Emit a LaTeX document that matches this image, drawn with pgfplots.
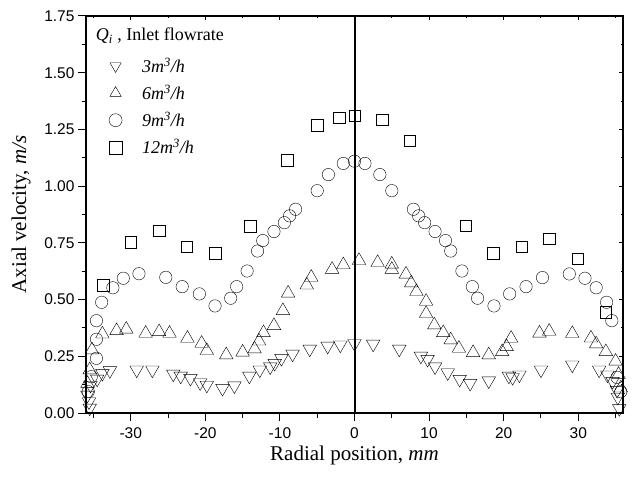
\documentclass[border=0pt]{standalone}
\usepackage{pgfplots}
\pgfplotsset{compat=1.18}
\usepackage{fontspec}
\setmainfont{Liberation Serif}
\newfontfamily\arialf{Liberation Sans}

\begin{document}
\begin{tikzpicture}
\pgfplotsset{
  myaxis/.style={
    scale only axis, width=537pt, height=397pt,
    xmin=-36, xmax=36, ymin=0, ymax=1.75,
    xtick={-30,-20,...,30},
    minor xtick={-35,-25,...,35},
    ytick={0,0.25,...,1.75},
    minor ytick={0.125,0.375,...,1.625},
    axis line style={line width=1.3pt},
    every tick/.style={black, line width=1pt},
  }
}
\begin{axis}[myaxis, name=main, at={(0,0)}, anchor=south west,
  tick align=outside, xtick pos=left, ytick pos=left,
  major tick length=8pt, minor tick length=4.5pt,
  /pgf/number format/assume math mode=true,
  yticklabel style={/pgf/number format/fixed, /pgf/number format/fixed zerofill, /pgf/number format/precision=2},
  xticklabel style={yshift=-3pt},
  tick label style={font=\arialf\fontsize{15.5}{18}\selectfont},
  xlabel={Radial position, \textit{mm}},
  ylabel={Axial velocity, \textit{m/s}},
  every axis y label/.style={at={(axis description cs:0,0.5)}, xshift=-65pt, rotate=90, anchor=center, font=\fontsize{21}{24}\selectfont},
  every axis x label/.style={at={(axis description cs:0.5,0)}, anchor=center, yshift=-42pt, font=\fontsize{21}{24}\selectfont},
  legend style={at={(axis description cs:0.037,0.905)}, anchor=north west, draw=none, fill=none,
    font=\fontsize{18}{20}\selectfont, row sep=7pt},
  legend cell align=left,
  legend image code/.code={\draw[#1, mark size=6.5pt] plot coordinates {(0.3cm,0cm)};},
  every mark/.append style={line width=1.15pt, fill=white},
]
\addplot[black, only marks, mark=triangle, mark size=7.8pt, mark options={rotate=180}] table {
-35.5 0.022
-35.6 0.05
-35.8 0.079
-35.4 0.123
-34.5 0.15
-33.8 0.175
-32.8 0.187
-29.2 0.19
-27.1 0.19
-24.3 0.172
-23.3 0.163
-22.0 0.153
-20.7 0.134
-19.8 0.123
-17.7 0.109
-16.1 0.12
-14.1 0.163
-12.7 0.19
-11.3 0.204
-10.7 0.219
-9.8 0.241
-8.3 0.26
-6.0 0.282
-3.6 0.295
-1.9 0.30
0 0.307
2.5 0.304
6.0 0.282
8.9 0.251
9.8 0.237
10.8 0.204
12.5 0.178
14.1 0.149
15.5 0.131
18.0 0.142
20.7 0.163
21.2 0.157
22.1 0.168
25.0 0.19
29.2 0.212
32.8 0.19
33.9 0.168
34.6 0.14
35.2 0.10
35.3 0.07
35.5 0.02
};
\addlegendentry{\hspace{18pt}\textit{3m\textsuperscript{3}/h}}
\addplot[black, only marks, mark=triangle, mark size=7.8pt] table {
-35.8 0.13
-35.5 0.19
-35.2 0.278
-33.8 0.348
-31.9 0.363
-30.6 0.369
-28.0 0.351
-26.2 0.358
-24.8 0.351
-22.4 0.329
-20.5 0.307
-19.8 0.275
-17.2 0.256
-15.0 0.268
-13.4 0.282
-12.8 0.317
-12.2 0.354
-10.8 0.385
-9.6 0.451
-8.9 0.528
-6.4 0.564
-5.8 0.598
-3.0 0.633
-1.5 0.653
0.6 0.672
3.1 0.663
5.0 0.656
5.0 0.633
6.9 0.612
7.6 0.573
8.3 0.535
9.6 0.492
9.6 0.438
10.7 0.388
11.9 0.354
12.9 0.322
14.0 0.285
15.9 0.266
18.0 0.256
19.8 0.27
20.4 0.292
21.0 0.329
24.8 0.352
26.1 0.36
29.2 0.35
31.7 0.33
32.4 0.304
33.7 0.27
35.0 0.228
35.4 0.17
35.7 0.11
};
\addlegendentry{\hspace{18pt}\textit{6m\textsuperscript{3}/h}}
\addplot[black, only marks, mark=o, mark size=6.2pt] table {
-35.7 0.094
-35.3 0.16
-34.6 0.241
-34.6 0.325
-34.6 0.407
-33.9 0.488
-32.4 0.552
-31.0 0.594
-28.9 0.614
-25.3 0.598
-23.1 0.557
-20.8 0.525
-18.7 0.472
-16.6 0.506
-15.8 0.557
-14.4 0.626
-13.0 0.714
-12.3 0.76
-10.8 0.80
-9.4 0.839
-8.7 0.869
-7.9 0.898
-5.0 0.98
-3.5 1.051
-1.5 1.10
0 1.11
1.4 1.10
3.4 1.051
5.0 0.98
7.9 0.898
8.6 0.869
9.4 0.839
10.8 0.80
12.2 0.76
12.9 0.714
14.4 0.626
15.8 0.557
16.5 0.506
18.7 0.472
20.8 0.525
23.0 0.557
25.2 0.597
28.8 0.613
30.9 0.594
32.4 0.552
33.8 0.488
34.5 0.407
35.2 0.157
35.7 0.094
};
\addlegendentry{\hspace{18pt}\textit{9m\textsuperscript{3}/h}}
\addplot[black, only marks, mark=square, mark size=5.7pt] table {
-33.7 0.564
-30.0 0.753
-26.2 0.804
-22.5 0.733
-18.7 0.704
-14.0 0.824
-9.0 1.114
-5.0 1.268
-2.05 1.302
0 1.311
3.7 1.292
7.4 1.20
14.9 0.826
18.6 0.705
22.4 0.733
26.1 0.769
29.9 0.679
33.7 0.445
};
\addlegendentry{\hspace{18pt}\textit{12m\textsuperscript{3}/h}}
\addplot[black, line width=2pt, forget plot] coordinates {(0,0) (0,1.75)};
\node[anchor=west, font=\fontsize{18}{20}\selectfont] at (axis description cs:0.012,0.95) {\textit{Q}\textsubscript{\textit{i}} , Inlet flowrate};
\end{axis}
\begin{axis}[myaxis, at={(main.south west)}, anchor=south west,
  tick align=inside, xtick pos=right, ytick pos=right,
  major tick length=4pt, minor tick length=2.5pt,
  xticklabels={}, yticklabels={}]
\end{axis}
\pgfresetboundingbox
\path[use as bounding box] ([shift={(-86pt,-68pt)}]main.south west) rectangle ([shift={(10pt,16pt)}]main.north east);
\end{tikzpicture}
\end{document}
